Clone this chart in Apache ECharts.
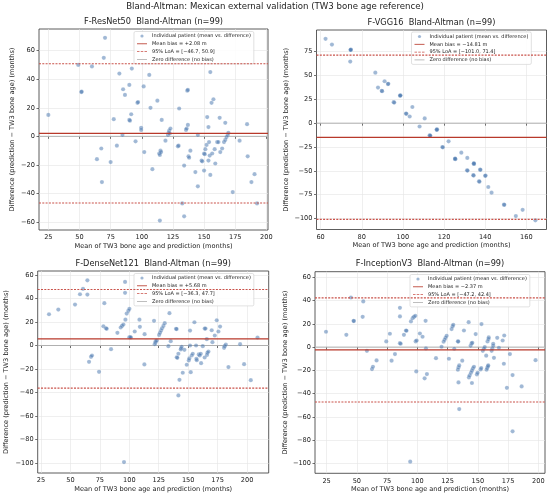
<!DOCTYPE html>
<html>
<head>
<meta charset="utf-8">
<script src="https://cdn.jsdelivr.net/npm/echarts@6/dist/echarts.min.js"></script>
<style>
  html, body { margin: 0; padding: 0; background: #fff; }
  #app { width: 550px; height: 495px; }
</style>
</head>
<body>
<div id="app"></div>
<script>
// panel names and Bland-Altman statistics
const models = ['F-ResNet50', 'F-VGG16', 'F-DenseNet121', 'F-InceptionV3'];
const bias = [2.08, -14.81, 5.68, -2.37];
const loaLow = [-46.7, -101.0, -36.3, -47.2];
const loaHigh = [50.9, 71.4, 47.7, 42.4];

// [mean, difference] per patient
const resnetPoints = [
  [25,15],[49,50],[51.5,31],[51.7,31.3],[60,49],[64,-16],[67.5,-8.5],[68,-32],[69.5,55],[70.5,69],
  [75,-18],[77.5,12],[80,-6.5],[82,44],[84.5,1],[85,33],[86.5,29],[90,36],[90,11.5],[90.5,11],
  [91.5,15.5],[92,47.5],[95,-3.5],[96.5,23.5],[97,24],[99.5,6],[99.5,4.5],[101.5,35],[102,-11],[106,43],
  [107,20],[108.5,-23],[112.5,25],[114,-12],[114.5,-13],[115,-10],[115.5,-11],[116,11.5],[114.5,-59],[119,-3],
  [121,1],[121.5,2.5],[122,4],[123,5.5],[122.5,2],[129,-7],[129.5,-6.5],[130,19.5],[132.5,-47],[134,-56],
  [134,-20.5],[135.5,4.5],[136,5.5],[136.5,32],[137,32.5],[137,8],[137.5,-14],[138,-15],[139,-10],[143,-25],
  [145,-35],[145,1],[148,-17],[148.5,-17.5],[150,-12],[150.5,-12.5],[150,-24],[151,-9],[152,-6],[152.5,13.5],
  [153.5,6.5],[153.5,-17],[154,-4],[154.5,-13.5],[155,-27],[155,45],[156,23.5],[157.5,26],[156.5,-12],[158.5,-9],
  [159,-19],[160.5,-4],[161.5,-4],[162.5,13],[163,-11],[164.5,-8.5],[166,-4],[167,9.5],[167,-2.5],[168,-0.5],
  [169,1],[169.5,2.5],[173,-39],[178.5,-3],[184.5,8.5],[185,-14],[188,-32],[190.5,-26.5],[192.5,-47]
];
const vggPoints = [
  [62.4,88.5],[65.5,82.5],[74.6,77],[74.7,77.3],[74.6,76.8],[74.4,64.7],[86.6,53],[87.9,37.4],[89.7,34],[89.9,33.6],
  [91.1,44],[92.7,41],[92.9,41.3],[95.5,22],[95.8,21.6],[98.6,29],[98.8,29.3],[98.7,28.8],[101.7,9.8],[101.5,10.1],
  [103.3,7],[104.6,17],[108.1,-3.5],[110.6,5],[113.2,-13],[113,-12.7],[113.3,-13.2],[116.4,-6.8],[116.6,-6.5],[116.5,-7],
  [119.2,-25],[119.4,-25.3],[122.2,-19],[125.3,-37.5],[125.5,-37.8],[125.4,-37.2],[128.4,-31],[131.2,-49.5],[131.4,-49.8],[131.3,-36.5],
  [134.4,-42.5],[134.6,-42.8],[134.5,-42.2],[134.4,-55],[134.2,-54.6],[137,-61],[137.2,-61.4],[137.5,-48.8],[137.7,-49],[140.2,-55],
  [140,-55.3],[141.5,-67],[143.1,-73],[149.1,-85.5],[149.3,-85.7],[154.9,-97.5],[158.2,-91],[164.4,-102]
];
const densenetPoints = [
  [31.8,26.6],[39.7,30.6],[53.9,34.8],[58.1,43.6],[60.7,48.2],[64.4,55.5],[64.4,43.3],[65.8,-13.9],[67.5,-9.6],[68.3,-8.5],
  [74.3,-22.4],[78,16.4],[78.8,36],[80.2,14.7],[80.8,14.2],[84.5,-3.1],[89.9,10.8],[92.7,15.3],[93.8,16.7],[95,17.8],
  [96.7,22],[96.4,54.1],[96.4,44.8],[95.5,-99.2],[97.8,27.2],[99.2,29.5],[100.1,31.2],[100,7],[100.8,7.2],[101.4,6.8],
  [104.6,11.9],[108.6,22],[109,15.9],[113,9.6],[112.8,-16.1],[121,21],[121.6,1.1],[122.2,2.3],[122.4,3.7],[123.3,4.2],
  [125.3,9],[126.1,10.8],[127,12.7],[127.8,14.7],[129,16.7],[130.1,19],[133.2,-0.6],[134.1,27.5],[135.2,3.7],[139.7,14.2],
  [140.2,14],[140.3,-10],[140.8,-10.5],[141.7,-7],[142.6,-29.2],[141.7,-42.5],[143.7,-3.4],[144,-2.5],[144.5,-1.1],[145.4,-23.2],
  [146.8,-3.7],[148.8,-16.4],[150.5,-12.7],[151,-11],[151.6,0],[151.6,12.7],[152.2,-22.7],[153,-8.5],[153.9,-7],[155.3,19.8],
  [156.7,0],[157,-11.3],[157.3,-12.5],[159,-7.6],[159.8,-8.5],[160.7,-7],[161,-15],[162.4,-0.6],[164,14.4],[164.7,14.4],
  [164,-10.2],[166,-8],[166.4,-6.2],[167.2,-5.1],[165.8,5.4],[170,13],[170.6,2.8],[172.6,8.5],[174.3,21.5],[175.7,11.9],
  [177.1,16.1],[180.5,-2],[181,-0.6],[182,0.8],[184.2,-18.4],[194.1,1.1],[197.5,-15.9],[203.2,-29.5],[208.9,6.8]
];
const inceptionPoints = [
  [24.5,13.2],[41.3,10.6],[45.1,42.7],[47.3,22.6],[47.5,22.4],[54.8,26.1],[55.3,39.3],[58.3,-3.2],[62.5,-18.9],[63.3,-16.9],
  [66.3,-11.5],[74.3,4.9],[77.3,11.5],[78.7,-11.7],[81.5,-6],[85.6,33.8],[85.6,26.4],[85.6,3.4],[86.2,2.9],[88.9,10.6],
  [90.6,14.3],[91,14.1],[94.7,22.1],[96.1,24.9],[97.2,26.1],[98.3,26.9],[98.6,4.9],[99.4,5.7],[99.1,-20.9],[102.1,11.7],
  [104.3,8.9],[106,-26.9],[106.8,22.6],[107.1,-1.1],[107.9,-23.2],[115.4,-9.5],[120,0.3],[121.7,4.6],[122.5,6.3],[123.3,8],
  [124.2,9.7],[126.1,-10],[128.3,15.5],[129.1,17.8],[129.7,19.2],[130.5,-1.4],[133.5,-19.5],[134,-17.5],[134.6,-15.8],[133.5,5],
  [133.8,4.8],[134,-30.4],[134.6,-53.3],[137.1,-11.7],[138.5,14.3],[142.4,21.5],[142.6,-26.1],[143.2,-24.4],[144.3,-22.1],[145.1,-20.3],
  [145.9,-18.3],[146.8,-16.9],[144,1.1],[144.8,3.2],[145.4,3.7],[145.1,-30.9],[148.2,11.2],[149.2,-23.5],[149.8,-22.1],[152.3,-19.2],
  [152.8,-18],[153,19.8],[154.1,-3.2],[154.9,-1.4],[155.7,0],[157.2,-19.5],[157.7,-18],[158.3,-16.6],[158.6,-15.8],[156.9,-7.4],
  [158,4.9],[158.8,6.9],[159,8.3],[161.4,-3.2],[161.9,-1.1],[162.7,1.1],[162.7,2.9],[163.3,-9.2],[166,8],[167.4,-0.6],
  [170.5,5.7],[171.8,10],[171.5,-14.3],[174,-35],[176.5,-6],[178.7,-24.1],[178.7,-72.5],[186.2,-33.8],[197.7,-11.2],[94.1,-98.6]
];
const points = [resnetPoints, vggPoints, densenetPoints, inceptionPoints];

// tick labels and axis ranges
const xTicks = [
  [25, 50, 75, 100, 125, 150, 175, 200],
  [60, 80, 100, 120, 140, 160],
  [25, 50, 75, 100, 125, 150, 175, 200],
  [25, 50, 75, 100, 125, 150, 175, 200]
];
const yTicks = [
  [-60, -40, -20, 0, 20, 40, 60],
  [-100, -75, -50, -25, 0, 25, 50, 75],
  [-100, -80, -60, -40, -20, 0, 20, 40, 60],
  [-100, -80, -60, -40, -20, 0, 20, 40, 60]
];
const xRange = [[17.5, 201.3], [58, 169.8], [22.2, 218.4], [15.4, 205.5]];
const yRange = [[-65.6, 75.2], [-111.6, 97.8], [-108.5, 63.4], [-108.6, 64.9]];

// layout (px)
const grids = [
  { left: 39, top: 29, width: 229, height: 201 },
  { left: 316.5, top: 30, width: 230, height: 199.5 },
  { left: 37.7, top: 271, width: 231, height: 202 },
  { left: 315, top: 271.7, width: 230, height: 201.6 }
];
const yNameGap = [23.5, 26.5, 28, 25];
const legendPos = [[134, 31.5], [411.5, 32], [134, 273.5], [410, 274.5]];

const FONT = 'DejaVu Sans';
const POINT = 'rgba(62,112,170,0.62)';
const BIAS = '#b8392b';
const LOA = '#c9524a';
const ZERO = '#b0b0b0';
const minus = v => String(v).replace('-', '\u2212');
const fmt = v => (v < 0 ? '\u2212' : '+') + Math.abs(v).toFixed(2);

const pointName = 'Individual patient (mean vs. difference)';
const zeroName = 'Zero difference (no bias)';
const solidIcon = 'path://M0,0h12v1h-12z';
const dashIcon = 'path://M0,0h3v1h-3z M4.5,0h3v1h-3z M9,0h3v1h-3z';

// a horizontal reference line across the whole x range of panel i
const hline = (i, y) => [[xRange[i][0], y], [xRange[i][1], y]];

const option = {
  animation: false,
  color: [POINT],
  textStyle: { fontFamily: FONT },
  title: [{
    text: 'Bland-Altman: Mexican external validation (TW3 bone age reference)',
    left: 275, top: 2, textAlign: 'center', padding: 0,
    textStyle: { fontSize: 8.6, fontWeight: 'normal', color: '#222', fontFamily: FONT }
  }],
  grid: [], xAxis: [], yAxis: [], legend: [], series: []
};

models.forEach((m, i) => {
  const g = grids[i];
  const biasName = 'Mean bias = ' + fmt(bias[i]) + ' m';
  const loaName = '95% LoA = [' + minus(loaLow[i].toFixed(1)) + ', ' + loaHigh[i].toFixed(1) + ']';

  option.title.push({
    text: m + '  Bland-Altman (n=99)',
    left: g.left + g.width / 2, top: g.top - 11.5, textAlign: 'center', padding: 0,
    textStyle: { fontSize: 8.2, fontWeight: 'normal', color: '#222', fontFamily: FONT }
  });

  option.grid.push(Object.assign({ show: true, borderColor: '#333', borderWidth: 0.8, backgroundColor: '#fff' }, g));

  option.xAxis.push({
    type: 'value', gridIndex: i, min: xRange[i][0], max: xRange[i][1],
    name: 'Mean of TW3 bone age and prediction (months)', nameLocation: 'middle', nameGap: 12.5,
    nameTextStyle: { fontSize: 6.6, color: '#222' },
    axisLine: { show: false },
    axisTick: { show: true, length: 2.5, customValues: xTicks[i], lineStyle: { color: '#333', width: 0.7 } },
    axisLabel: { customValues: xTicks[i], fontSize: 6.6, color: '#222', margin: 4, formatter: minus },
    splitLine: { show: true, lineStyle: { color: '#e4e4e4', width: 0.6 } }
  });

  option.yAxis.push({
    type: 'value', gridIndex: i, min: yRange[i][0], max: yRange[i][1],
    name: 'Difference (prediction \u2212 TW3 bone age) (months)', nameLocation: 'middle', nameGap: yNameGap[i],
    nameTextStyle: { fontSize: 6.6, color: '#222' },
    axisLine: { show: false },
    axisTick: { show: true, length: 2.5, customValues: yTicks[i], lineStyle: { color: '#333', width: 0.7 } },
    axisLabel: { customValues: yTicks[i], fontSize: 6.6, color: '#222', margin: 4, formatter: minus },
    splitLine: { show: true, lineStyle: { color: '#e4e4e4', width: 0.6 } }
  });

  option.legend.push({
    orient: 'vertical', left: legendPos[i][0], top: legendPos[i][1],
    data: [
      { name: pointName, icon: 'circle', itemStyle: { color: POINT, borderWidth: 0 } },
      { name: biasName, icon: solidIcon, itemStyle: { color: BIAS, borderWidth: 0 } },
      { name: loaName, icon: dashIcon, itemStyle: { color: LOA, borderWidth: 0 } },
      { name: zeroName, icon: solidIcon, itemStyle: { color: ZERO, borderWidth: 0 } }
    ],
    itemWidth: 10, itemHeight: 3.2, itemGap: 2.8,
    padding: [2, 3, 2, 3],
    backgroundColor: 'rgba(255,255,255,0.85)', borderColor: '#cccccc', borderWidth: 0.6, borderRadius: 1.5,
    textStyle: { fontSize: 5, color: '#222', fontFamily: FONT },
    selectedMode: false
  });

  const lineSeries = (name, y, color, width, type, z) => ({
    name, type: 'line', xAxisIndex: i, yAxisIndex: i, data: hline(i, y),
    symbol: 'none', silent: true, z,
    itemStyle: { color }, lineStyle: { color, width, type }
  });

  option.series.push({
    name: pointName, type: 'scatter', xAxisIndex: i, yAxisIndex: i,
    symbolSize: 4.2, data: points[i], z: 3,
    itemStyle: { color: POINT, borderColor: 'rgba(255,255,255,0.6)', borderWidth: 0.3 }
  });
  option.series.push(lineSeries(zeroName, 0, ZERO, 1, 'solid', 2));
  option.series.push(lineSeries(biasName, bias[i], BIAS, 1.3, 'solid', 4));
  option.series.push(lineSeries(loaName, loaLow[i], LOA, 1.1, [2, 1.3], 4));
  option.series.push(lineSeries(loaName, loaHigh[i], LOA, 1.1, [2, 1.3], 4));
});

echarts.init(document.getElementById('app')).setOption(option);
</script>
</body>
</html>
